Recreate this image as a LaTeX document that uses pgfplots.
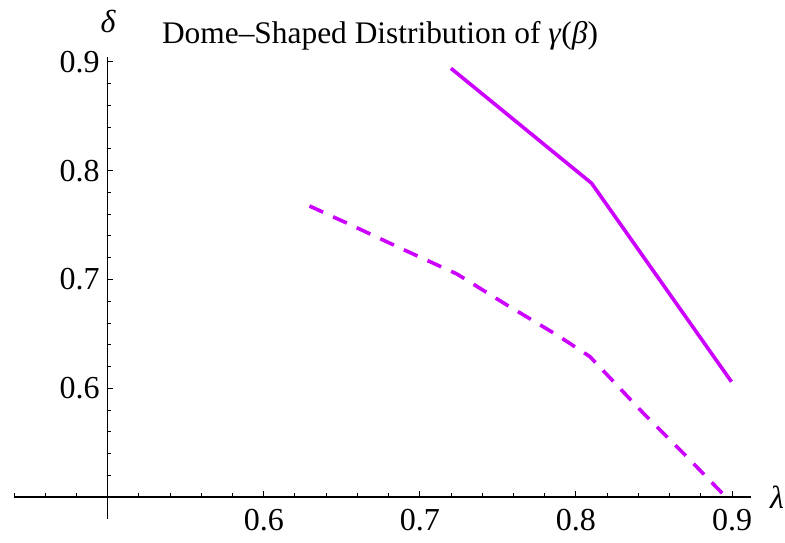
\documentclass[border=0pt]{standalone}
\usepackage{fontspec}
\setmainfont{Liberation Serif}
\usepackage{pgfplots}
\pgfplotsset{compat=1.18}
\definecolor{hue}{RGB}{204,0,255}
\begin{document}
\begin{tikzpicture}[x=0.5pt,y=0.5pt]
\useasboundingbox (0,0) rectangle (785,542);
\begin{axis}[
  at={(7pt,11.625pt)}, anchor=south west,
  scale only axis, width=368.4pt, height=231.1pt,
  xmin=0.44, xmax=0.912, ymin=0.48, ymax=0.905,
  axis lines*=left,
  axis x line shift=-10.875pt,
  axis y line shift=-46.83pt,
  axis line style={line width=0.6pt, black},
  tick align=inside,
  major tick length=2.8pt, minor tick length=1.8pt,
  tick style={black, line width=0.5pt},
  xtick={0.6,0.7,0.8,0.9},
  ytick={0.6,0.7,0.8,0.9},
  minor xtick={0.44,0.46,0.48,0.52,0.54,0.56,0.58,0.62,0.64,0.66,0.68,0.72,0.74,0.76,0.78,0.82,0.84,0.86,0.88},
  minor ytick={0.52,0.54,0.56,0.58,0.62,0.64,0.66,0.68,0.72,0.74,0.76,0.78,0.82,0.84,0.86,0.88},
  xticklabel style={/pgf/number format/fixed, /pgf/number format/precision=1, /pgf/number format/fixed zerofill, yshift=-2.5pt},
  yticklabel style={/pgf/number format/fixed, /pgf/number format/precision=1, /pgf/number format/fixed zerofill, xshift=-0.5pt},
  /pgf/number format/assume math mode=true,
  ticklabel style={font=\fontsize{16}{19}\selectfont},
  clip=false,
]
\addplot[hue, line width=1.8pt] coordinates {
 (0.7199,0.8942) (0.8100,0.7885) (0.8996,0.6060)
};
\addplot[hue, line width=1.8pt, dash pattern=on 7.5pt off 5.5pt] coordinates {
 (0.6293,0.7676) (0.6553,0.7505) (0.6895,0.7275) (0.7237,0.7051) (0.7557,0.6766)
 (0.7878,0.6490) (0.8090,0.6290) (0.8432,0.5770) (0.8710,0.5371) (0.8967,0.4990)
};
\end{axis}
\node[anchor=base, font=\fontsize{15.7}{19}\selectfont, inner sep=0pt] at (380,498) {Dome–Shaped Distribution of \textit{γ}(\textit{β})};
\node[font=\fontsize{16}{19}\selectfont\itshape, inner sep=0pt] at (108,521) {δ};
\node[font=\fontsize{16}{19}\selectfont\itshape, inner sep=0pt] at (777,45) {λ};
\end{tikzpicture}
\end{document}
